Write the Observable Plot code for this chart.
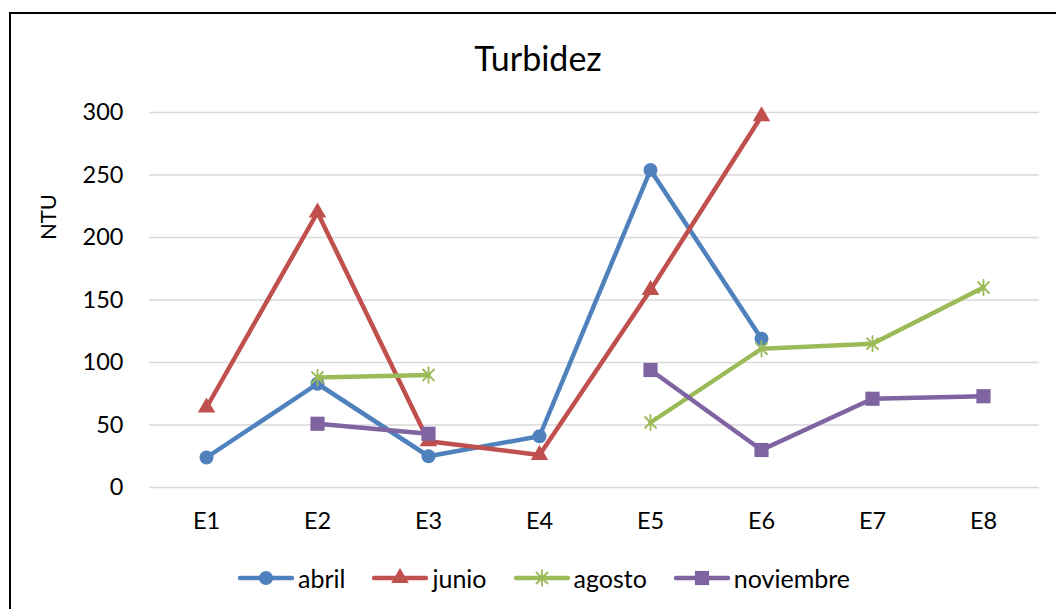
<!DOCTYPE html>
<html>
<head>
<meta charset="utf-8">
<script src="https://cdn.jsdelivr.net/npm/d3@7"></script>
<script src="https://cdn.jsdelivr.net/npm/@observablehq/plot@0.6"></script>
<style>
  html, body { margin: 0; padding: 0; background: #fff; }
  #wrap { position: relative; width: 1056px; height: 609px; overflow: hidden; font-family: Lato, "Open Sans", sans-serif; color: #000; }
  #frame { position: absolute; left: 9px; top: 12px; width: 1100px; height: 700px; border: 2px solid #000; box-sizing: border-box; }
  #title { position: absolute; left: 0; width: 1076px; top: 36px; text-align: center; font-size: 34px; line-height: 44px; }
  #ylab { position: absolute; left: 47px; top: 217px; transform: translate(-50%, -50%) rotate(-90deg); font-size: 22px; white-space: nowrap; }
  #chart { position: absolute; left: 0; top: 90px; }
  #legend { position: absolute; left: 238px; top: 562px; display: flex; align-items: center; font-size: 25px; line-height: 32px; }
  .item { display: flex; align-items: center; margin-right: 27px; }
  .item svg { margin-right: 4px; }
</style>
</head>
<body>
<div id="wrap">
  <div id="frame"></div>
  <div id="title">Turbidez</div>
  <div id="ylab">NTU</div>
  <div id="chart"></div>
  <div id="legend"></div>
</div>
<script>
const categories = ["E1", "E2", "E3", "E4", "E5", "E6", "E7", "E8"];
const seriesNames = ["abril", "junio", "agosto", "noviembre"];
const abril = [24, 83, 25, 41, 254, 119, null, null];
const junio = [64, 220, 37, 26, 158, 297, null, null];
const agosto = [null, 88, 90, null, 52, 111, 115, 160];
const noviembre = [null, 51, 43, null, 94, 30, 71, 73];
const colors = ["#4f81bd", "#c0504d", "#9bbb59", "#8064a2"];
const yTicks = [0, 50, 100, 150, 200, 250, 300];

const starSymbol = {
  draw(context, size) {
    const r = Math.sqrt(size / Math.PI);
    const d = r * Math.SQRT1_2;
    context.moveTo(0, -r); context.lineTo(0, r);
    context.moveTo(-d, -d); context.lineTo(d, d);
    context.moveTo(-d, d); context.lineTo(d, -d);
  }
};
const symbols = ["circle", "triangle", starSymbol, "square"];
const radii = [7, 6.5, 8.5, 8];

const allValues = [abril, junio, agosto, noviembre];
const seriesData = allValues.map((vals, i) =>
  categories.map((c, j) => ({ series: seriesNames[i], cat: c, value: vals[j] }))
);

const marks = [
  Plot.ruleY(yTicks, { stroke: "#d9d9d9", strokeWidth: 1.5 }),
  Plot.axisY({ ticks: yTicks, tickSize: 0, tickPadding: 26, label: null }),
  Plot.axisX({ tickSize: 0, tickPadding: 25, label: null })
];
seriesData.forEach((data, i) => {
  marks.push(Plot.line(data, { x: "cat", y: "value", stroke: colors[i], strokeWidth: 4.5, strokeLinejoin: "round", strokeLinecap: "round" }));
  const pts = data.filter(d => d.value != null);
  if (i === 2) {
    marks.push(Plot.dot(pts, { x: "cat", y: "value", symbol: symbols[i], r: radii[i], stroke: colors[i], strokeWidth: 1.8, fill: "none" }));
  } else {
    marks.push(Plot.dot(pts, { x: "cat", y: "value", symbol: symbols[i], r: radii[i], fill: colors[i], stroke: "none" }));
  }
});

const chart = Plot.plot({
  width: 1056,
  height: 447,
  marginLeft: 149,
  marginRight: 17,
  marginTop: 22,
  marginBottom: 50,
  x: { type: "point", domain: categories, padding: 0.5 },
  y: { domain: [0, 300] },
  style: { fontFamily: "Lato, 'Open Sans', sans-serif", fontSize: "23.5px", color: "#000", background: "transparent", overflow: "visible" },
  marks
});
document.getElementById("chart").appendChild(chart);

// Legend
const legend = d3.select("#legend");
seriesNames.forEach((name, i) => {
  const item = legend.append("div").attr("class", "item");
  const svg = item.append("svg").attr("width", 56).attr("height", 20);
  svg.append("line").attr("x1", 2).attr("x2", 54).attr("y1", 10).attr("y2", 10)
    .attr("stroke", colors[i]).attr("stroke-width", 4.5).attr("stroke-linecap", "round");
  const sym = i === 2 ? starSymbol : ({circle: d3.symbolCircle, triangle: d3.symbolTriangle, square: d3.symbolSquare})[symbols[i]];
  const path = d3.symbol(sym, Math.PI * radii[i] * radii[i])();
  const p = svg.append("path").attr("d", path).attr("transform", "translate(28,10)");
  if (i === 2) p.attr("fill", "none").attr("stroke", colors[i]).attr("stroke-width", 1.8);
  else p.attr("fill", colors[i]);
  item.append("span").text(name);
});
</script>
</body>
</html>
